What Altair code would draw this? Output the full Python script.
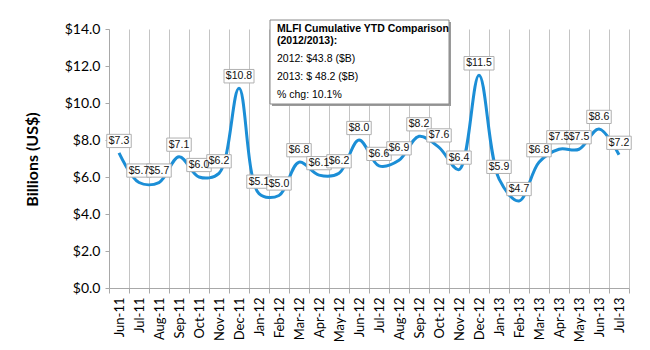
import altair as alt
import pandas as pd

months = ["Jun-11", "Jul-11", "Aug-11", "Sep-11", "Oct-11", "Nov-11", "Dec-11",
          "Jan-12", "Feb-12", "Mar-12", "Apr-12", "May-12", "Jun-12", "Jul-12",
          "Aug-12", "Sep-12", "Oct-12", "Nov-12", "Dec-12", "Jan-13", "Feb-13",
          "Mar-13", "Apr-13", "May-13", "Jun-13", "Jul-13"]
values = [7.3, 5.7, 5.7, 7.1, 6.0, 6.2, 10.8,
          5.1, 5.0, 6.8, 6.1, 6.2, 8.0, 6.6,
          6.9, 8.2, 7.6, 6.4, 11.5, 5.9, 4.7,
          6.8, 7.5, 7.5, 8.6, 7.2]
y_ticks = [0, 2, 4, 6, 8, 10, 12, 14]
note_title = ["MLFI Cumulative YTD Comparison", "(2012/2013):"]
note_lines = ["2012: $43.8 ($B)", "2013: $ 48.2  ($B)", "% chg: 10.1%"]

labels = ["$%.1f" % v for v in values]
df = pd.DataFrame({"month": months, "value": values, "label": labels})

xenc = alt.X(
    "month:N", sort=months,
    scale=alt.Scale(type="band", paddingInner=0, paddingOuter=0),
    axis=alt.Axis(title=None, labelAngle=-90, tickBand="extent", grid=True,
                  gridColor="#c4c4c4", gridWidth=1, domainColor="#a8a8a8",
                  tickColor="#a8a8a8", tickSize=5, labelFont="Lato",
                  labelFontSize=13, labelColor="#000000", labelPadding=4),
)
yenc = alt.Y(
    "value:Q", scale=alt.Scale(domain=[0, 14], nice=False, zero=True),
    axis=alt.Axis(values=y_ticks, format="$.1f", grid=False, domainColor="#a8a8a8",
                  tickColor="#a8a8a8", tickSize=4, labelFont="Lato",
                  labelFontSize=14, labelColor="#000000", labelPadding=5,
                  title="Billions (US$)", titleFont="Lato", titleFontSize=16,
                  titleFontWeight="bold", titleColor="#000000", titleAngle=-90,
                  titleX=-77, titleY=130, titleAlign="center", titleBaseline="middle"),
)

base = alt.Chart(df).encode(x=xenc, y=yenc)

line = base.mark_line(interpolate="catmull-rom", color="#1B8ED6", strokeWidth=3)

box_short = base.transform_filter("length(datum.label) <= 4").mark_point(
    shape="M-1,-0.54H1V0.54H-1Z", size=600, filled=True, fill="white",
    stroke="#b0b0b0", strokeWidth=1, opacity=1, fillOpacity=1, strokeOpacity=1,
    yOffset=-12)
box_long = base.transform_filter("length(datum.label) > 4").mark_point(
    shape="M-1,-0.45H1V0.45H-1Z", size=900, filled=True, fill="white",
    stroke="#b0b0b0", strokeWidth=1, opacity=1, fillOpacity=1, strokeOpacity=1,
    yOffset=-12)
texts = base.mark_text(yOffset=-12, font="Liberation Sans", fontSize=10.5,
                       color="#111111", baseline="middle").encode(text="label:N")

dummy = pd.DataFrame({"a": [0]})
shadow = alt.Chart(dummy).mark_rect(color="#9a9a9a").encode(
    x=alt.value(163), x2=alt.value(342), y=alt.value(-7), y2=alt.value(77))
panel = alt.Chart(dummy).mark_rect(fill="white", stroke="#8a8a8a", strokeWidth=1).encode(
    x=alt.value(161), x2=alt.value(340), y=alt.value(-9), y2=alt.value(75))

note_layers = []
title_y = [0, 12]
for t, yy in zip(note_title, title_y):
    note_layers.append(alt.Chart(dummy).mark_text(
        align="left", baseline="middle", font="Liberation Sans", fontSize=10.5,
        fontWeight="bold", color="#000000").encode(
        x=alt.value(168), y=alt.value(yy), text=alt.value(t)))
line_y = [30, 48, 66]
for t, yy in zip(note_lines, line_y):
    note_layers.append(alt.Chart(dummy).mark_text(
        align="left", baseline="middle", font="Liberation Sans", fontSize=10.5,
        color="#000000").encode(
        x=alt.value(168), y=alt.value(yy), text=alt.value(t)))

chart = alt.layer(line, box_short, box_long, texts, shadow, panel, *note_layers).properties(
    width=520, height=259,
    autosize=alt.AutoSizeParams(type="none"),
    padding={"left": 109, "top": 29, "right": 21, "bottom": 62},
    background="white",
).configure_view(stroke=None)

chart.save("out.html", embed_options={"renderer": "svg", "actions": False})
